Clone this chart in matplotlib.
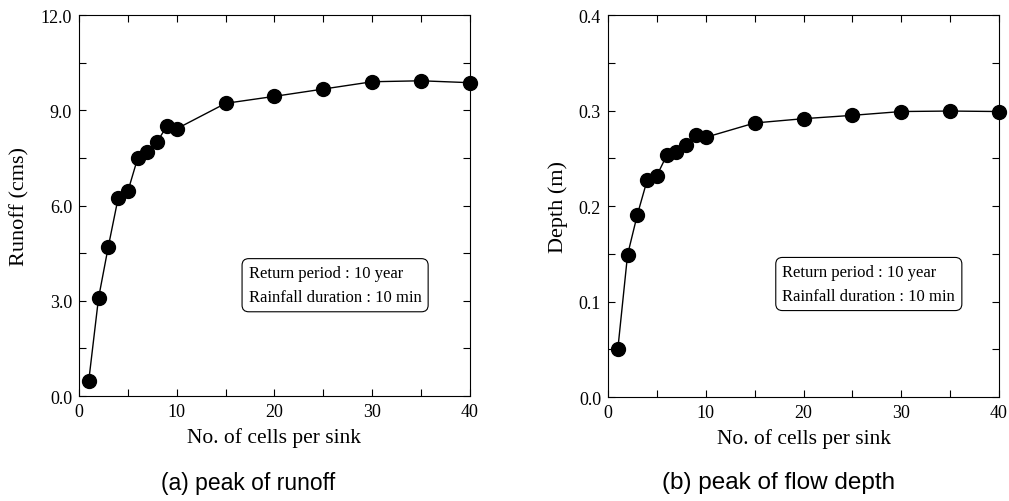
# peak runoff / peak flow depth vs number of cells per sink
import numpy as np
import matplotlib.pyplot as plt
from matplotlib.ticker import MultipleLocator, FormatStrFormatter

plt.rcParams['font.family'] = ['Liberation Serif', 'DejaVu Serif']

# data
cells = [1, 2, 3, 4, 5, 6, 7, 8, 9, 10, 15, 20, 25, 30, 35, 40]
runoff = [0.49, 3.09, 4.71, 6.23, 6.45, 7.49, 7.68, 8.01, 8.51, 8.42,
          9.22, 9.44, 9.67, 9.90, 9.93, 9.87]
depth = [0.050, 0.149, 0.191, 0.227, 0.232, 0.253, 0.257, 0.264, 0.274, 0.272,
         0.287, 0.2915, 0.295, 0.299, 0.2995, 0.299]

note = 'Return period : 10 year\nRainfall duration : 10 min'

fig = plt.figure(figsize=(10.09, 5.02), dpi=100)
ax1 = fig.add_axes([0.0783, 0.209, 0.3875, 0.759])
ax2 = fig.add_axes([0.6026, 0.207, 0.3875, 0.761])


def style(ax, ymax, ymaj, ymin, ylabel, fmt):
    ax.set_xlim(0, 40)
    ax.set_ylim(0, ymax)
    ax.xaxis.set_major_locator(MultipleLocator(10))
    ax.xaxis.set_minor_locator(MultipleLocator(5))
    ax.yaxis.set_major_locator(MultipleLocator(ymaj))
    ax.yaxis.set_minor_locator(MultipleLocator(ymin))
    ax.yaxis.set_major_formatter(FormatStrFormatter(fmt))
    ax.tick_params(which='both', direction='in', top=True, right=True,
                   labelsize=13, width=0.8, length=5, pad=5)
    ax.set_xlabel('No. of cells per sink', fontsize=15.5, labelpad=5)
    ax.set_ylabel(ylabel, fontsize=16, labelpad=8)


style(ax1, 12, 3, 1.5, 'Runoff (cms)', '%.1f')
style(ax2, 0.4, 0.1, 0.05, 'Depth (m)', '%.1f')

ax1.plot(cells, runoff, 'k-', lw=1.0, marker='o', ms=10, clip_on=False, zorder=3)
ax2.plot(cells, depth, 'k-', lw=1.0, marker='o', ms=10, clip_on=False, zorder=3)

box = dict(boxstyle='round,pad=0.4', fc='white', ec='k', lw=0.8)
ax1.text(0.655, 0.291, note, transform=ax1.transAxes, multialignment='left',
         fontsize=12, linespacing=1.65, va='center', ha='center', bbox=box)
ax2.text(0.667, 0.296, note, transform=ax2.transAxes, multialignment='left',
         fontsize=12, linespacing=1.65, va='center', ha='center', bbox=box)

fig.text(0.246, 0.037, '(a) peak of runoff', ha='center', va='center',
         fontfamily='Liberation Sans', fontsize=16.5)
fig.text(0.772, 0.037, '(b) peak of flow depth', ha='center', va='center',
         fontfamily='Liberation Sans', fontsize=17.5)

fig.savefig('out.png', dpi=100)
